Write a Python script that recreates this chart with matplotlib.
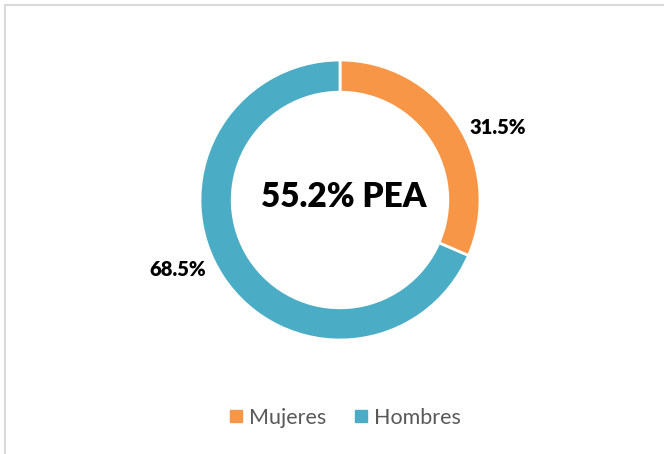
import matplotlib
matplotlib.use("Agg")
import matplotlib.pyplot as plt
from matplotlib.lines import Line2D

categories = ["Mujeres", "Hombres"]
values = [31.5, 68.5]
colors = ["#F79646", "#4BACC6"]
center_text = "55.2% PEA"

plt.rcParams['font.family'] = ['Lato', 'DejaVu Sans']

W, H = 664, 454
fig = plt.figure(figsize=(W / 100, H / 100), dpi=100)

# axes placed so that radius 1 ~ 140 px, centre at (340, 200) px from top
cx, cy, half = 340, 200, 175
ax = fig.add_axes([(cx - half) / W, (H - cy - half) / H, 2 * half / W, 2 * half / H])
ax.set_xlim(-1.25, 1.25)
ax.set_ylim(-1.25, 1.25)
ax.set_aspect("equal")
ax.axis("off")

wedges, _ = ax.pie(values, colors=colors, startangle=90, counterclock=False,
                   radius=1.0, wedgeprops=dict(width=0.23, edgecolor="white", linewidth=2))

label_pos = [(1.13, 0.515), (-1.16, -0.50)]
for v, (x, y) in zip(values, label_pos):
    ax.text(x, y, f"{v:.1f}%", ha="center", va="center", fontsize=14.5,
            fontweight="heavy", color="black")

ax.text(0.03, 0.02, center_text, ha="center", va="center", fontsize=24,
        fontweight="heavy", color="black")

handles = [Line2D([], [], marker="s", linestyle="none", markersize=8,
                  markerfacecolor=c, markeredgecolor=c) for c in colors]
fig.legend(handles, categories, loc="center", bbox_to_anchor=(344 / W, 1 - 418 / H),
           ncol=2, frameon=False, fontsize=15.5, labelcolor="#595959",
           handletextpad=0.2, columnspacing=1.2, handlelength=0.8)

# chart border: only top and left visible
border = "#D9D9D9"
fig.add_artist(Line2D([4.5 / W, 4.5 / W], [0, 1 - 4.5 / H], color=border, lw=1.5,
                      transform=fig.transFigure))
fig.add_artist(Line2D([4.5 / W, 1], [1 - 4.5 / H, 1 - 4.5 / H], color=border, lw=1.5,
                      transform=fig.transFigure))

fig.savefig("out.png", dpi=100, facecolor="white")
